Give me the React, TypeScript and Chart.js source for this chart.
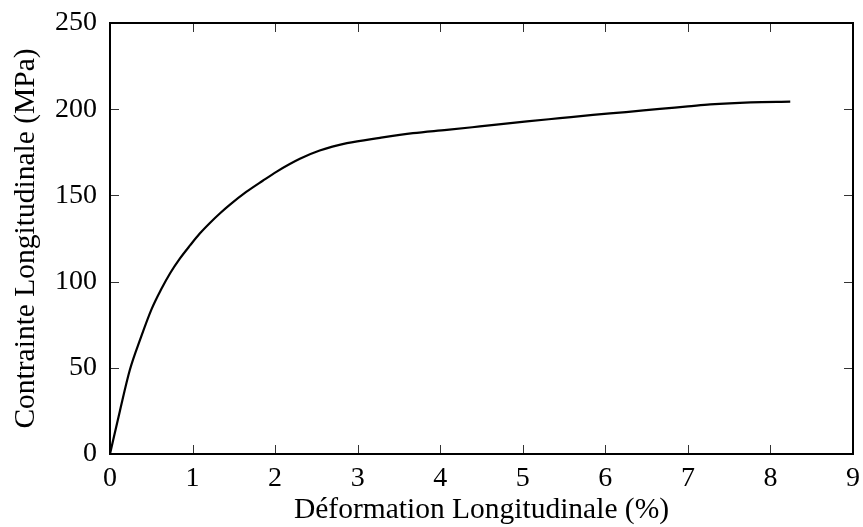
import React, { useEffect, useRef } from "react";
import { Chart, registerables } from "chart.js";

Chart.register(...registerables);

const strainPct: number[] = [0, 0.12, 0.24, 0.37, 0.5, 0.62, 0.73, 0.85, 0.97, 1.09, 1.21, 1.33, 1.45, 1.65, 1.85, 2.02, 2.3, 2.54, 2.87, 3.27, 3.67, 4.08, 4.48, 5.05, 5.45, 5.85, 6.25, 6.66, 7.0, 7.27, 7.76, 8.24];
const stressMPa: number[] = [0, 25, 48.7, 67, 83.6, 95.5, 105, 113.6, 121, 128, 134, 139.5, 144.5, 152, 158.5, 163.8, 171.2, 176, 180.3, 183.4, 186.1, 188, 190, 192.9, 194.8, 196.7, 198.3, 200.2, 201.6, 202.8, 204, 204.4];

const xTicksLabel = "Déformation Longitudinale (%)";
const yTicksLabel = "Contrainte Longitudinale (MPa)";

const FONT = "'Liberation Serif', 'DejaVu Serif', serif";

const frameTicks = {
  id: "frameTicks",
  afterDatasetsDraw(chart: any) {
    const { ctx, chartArea, scales } = chart;
    const { left, right, top, bottom } = chartArea;
    const x = scales.x;
    const y = scales.y;
    const L = 9;
    ctx.save();
    ctx.strokeStyle = "#333";
    ctx.lineWidth = 1;
    ctx.beginPath();
    x.ticks.forEach((t: any) => {
      const px = Math.round(x.getPixelForValue(t.value)) + 0.5;
      ctx.moveTo(px, bottom);
      ctx.lineTo(px, bottom - L);
      ctx.moveTo(px, top);
      ctx.lineTo(px, top + L);
    });
    y.ticks.forEach((t: any) => {
      const py = Math.round(y.getPixelForValue(t.value)) + 0.5;
      ctx.moveTo(left, py);
      ctx.lineTo(left + L, py);
      ctx.moveTo(right, py);
      ctx.lineTo(right - L, py);
    });
    ctx.stroke();
    ctx.strokeStyle = "#000";
    ctx.lineWidth = 2;
    ctx.strokeRect(left, top, right - left, bottom - top);
    ctx.restore();
  },
};

export default function App() {
  const ref = useRef<HTMLCanvasElement | null>(null);

  useEffect(() => {
    document.body.style.margin = "0";
    if (!ref.current) return;
    const data = strainPct.map((v, i) => ({ x: v, y: stressMPa[i] }));
    const chart = new Chart(ref.current, {
      type: "line",
      data: {
        datasets: [
          {
            data,
            borderColor: "#000",
            borderWidth: 2.2,
            pointRadius: 0,
            fill: false,
            cubicInterpolationMode: "monotone",
          },
        ],
      },
      options: {
        animation: false,
        responsive: true,
        maintainAspectRatio: false,
        layout: { padding: { left: 0, top: 23, right: 10, bottom: 0 } },
        plugins: { legend: { display: false }, tooltip: { enabled: false } },
        scales: {
          x: {
            type: "linear",
            min: 0,
            max: 9,
            afterFit: (s: any) => {
              s.height = 73;
              s.paddingLeft = 0;
              s.paddingRight = 0;
            },
            grid: { display: false, drawTicks: false },
            border: { display: false },
            ticks: {
              stepSize: 1,
              padding: 8,
              color: "#000",
              font: { family: FONT, size: 28 },
              maxRotation: 0,
            },
            title: {
              display: true,
              text: xTicksLabel,
              color: "#000",
              font: { family: FONT, size: 29.5, lineHeight: 1.15 },
              padding: { top: 0, bottom: 0 },
            },
          },
          y: {
            type: "linear",
            min: 0,
            max: 250,
            afterFit: (s: any) => {
              s.width = 110;
              s.paddingTop = 0;
              s.paddingBottom = 0;
            },
            grid: { display: false, drawTicks: false },
            border: { display: false },
            ticks: {
              stepSize: 50,
              padding: 13,
              color: "#000",
              font: { family: FONT, size: 28 },
            },
            title: {
              display: true,
              text: yTicksLabel,
              color: "#000",
              font: { family: FONT, size: 29.5, lineHeight: 1.15 },
              padding: { top: 9.5, bottom: 0 },
            },
          },
        },
      },
      plugins: [frameTicks],
    });
    return () => chart.destroy();
  }, []);

  return (
    <div style={{ width: 863, height: 527, position: "relative" }}>
      <canvas ref={ref} />
    </div>
  );
}
